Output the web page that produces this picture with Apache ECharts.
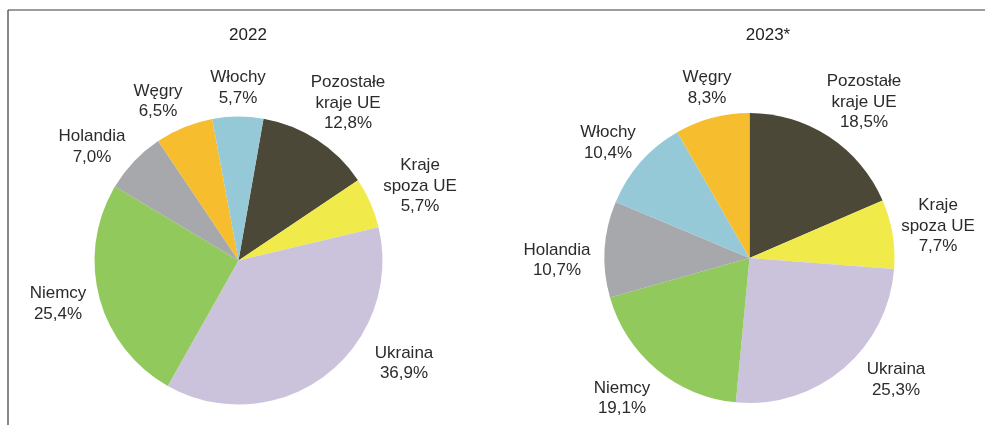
<!DOCTYPE html>
<html>
<head>
<meta charset="utf-8">
<script src="https://cdn.jsdelivr.net/npm/echarts@6/dist/echarts.min.js"></script>
<style>
    html, body { margin: 0; padding: 0; background: #fff; }
    #main { width: 985px; height: 425px; }
</style>
</head>
<body>
<div id="main"></div>
<script>
// kraje (kolejnosc zgodnie z ruchem wskazowek zegara)
var names2022 = ['Pozostałe\nkraje UE', 'Kraje\nspoza UE', 'Ukraina', 'Niemcy', 'Holandia', 'Węgry', 'Włochy'];
var values2022 = [12.8, 5.7, 36.9, 25.4, 7.0, 6.5, 5.7];

var names2023 = ['Pozostałe\nkraje UE', 'Kraje\nspoza UE', 'Ukraina', 'Niemcy', 'Holandia', 'Włochy', 'Węgry'];
var values2023 = [18.5, 7.7, 25.3, 19.1, 10.7, 10.4, 8.3];

var colorMap = {
    'Pozostałe\nkraje UE': '#4b4838',
    'Kraje\nspoza UE': '#f0ea4a',
    'Ukraina': '#cbc2dc',
    'Niemcy': '#92c95c',
    'Holandia': '#a7a8ab',
    'Węgry': '#f6be2f',
    'Włochy': '#95c9d7'
};

// polozenie etykiet wzgledem srodka kola (px)
var labelOffsets2022 = [[109.5, -157.5], [181.5, -74.5], [165.5, 103], [-180.5, 43.5], [-146.5, -113.5], [-80.5, -159], [-0.5, -172.5]];
var labelOffsets2023 = [[114.5, -156], [188.5, -32], [146.5, 122], [-127.5, 140.5], [-192.5, 2.5], [-141.5, -115], [-42.5, -170]];

var FONT = '"Liberation Sans", Arial, sans-serif';

function buildData(names, values) {
    var res = [];
    for (var i = 0; i < names.length; i++) {
        res.push({ name: names[i], value: values[i], itemStyle: { color: colorMap[names[i]] } });
    }
    return res;
}

function buildPie(names, values, center, radius, startAngle, offsets) {
    return {
        type: 'pie',
        center: center,
        radius: radius,
        startAngle: startAngle,
        clockwise: true,
        animation: false,
        silent: true,
        data: buildData(names, values),
        itemStyle: { borderWidth: 0 },
        label: {
            show: true,
            position: 'outside',
            fontFamily: FONT,
            fontSize: 17,
            lineHeight: 20.5,
            color: '#2b2b2b',
            align: 'center',
            overflow: 'none',
            width: 200,
            formatter: function (p) {
                return p.name + '\n' + p.value.toFixed(1).replace('.', ',') + '%';
            }
        },
        labelLine: { show: false },
        labelLayout: function (p) {
            var o = offsets[p.dataIndex];
            return {
                x: center[0] + o[0],
                y: center[1] + o[1],
                align: 'center',
                verticalAlign: 'middle',
                moveOverlap: null
            };
        }
    };
}

var chart = echarts.init(document.getElementById('main'), null, { renderer: 'canvas' });

var option = {
    backgroundColor: '#fff',
    animation: false,
    title: [
        { text: '2022', left: 243, top: 22, textAlign: 'center',
          textStyle: { fontFamily: FONT, fontSize: 17, fontWeight: 'normal', color: '#222' } },
        { text: '2023*', left: 763, top: 22, textAlign: 'center',
          textStyle: { fontFamily: FONT, fontSize: 17, fontWeight: 'normal', color: '#222' } }
    ],
    graphic: [
        { type: 'line', shape: { x1: 8, y1: 10, x2: 985, y2: 10 }, style: { stroke: '#3a3a3a', lineWidth: 1.2 } },
        { type: 'line', shape: { x1: 8, y1: 10, x2: 8, y2: 425 }, style: { stroke: '#3a3a3a', lineWidth: 1.2 } }
    ],
    series: [
        buildPie(names2022, values2022, [238.5, 260.5], 144, 80, labelOffsets2022),
        buildPie(names2023, values2023, [749.5, 258], 145, 90, labelOffsets2023)
    ]
};

chart.setOption(option);
</script>
</body>
</html>
